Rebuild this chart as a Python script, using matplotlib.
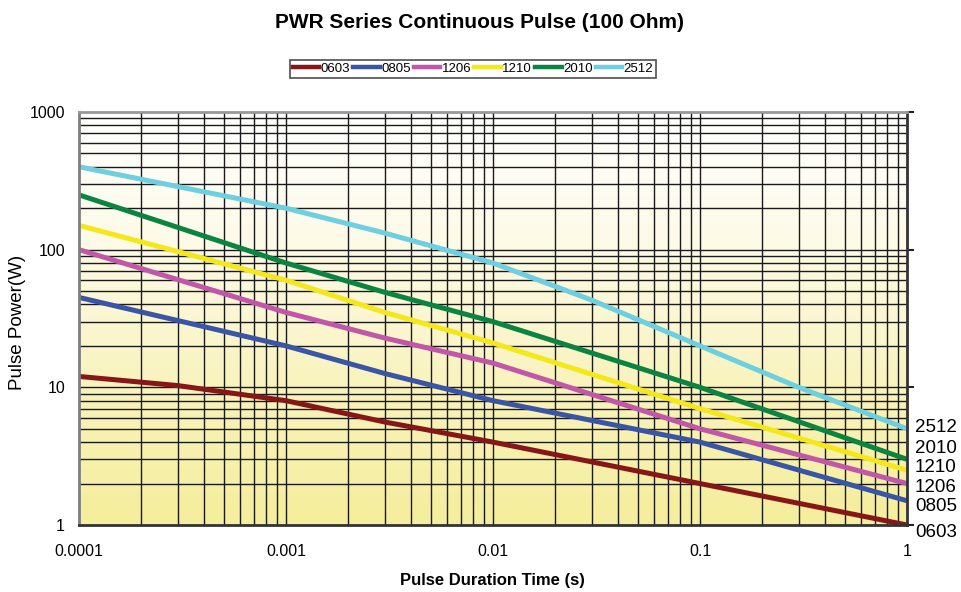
import numpy as np
import matplotlib
matplotlib.use("Agg")
import matplotlib.pyplot as plt
from matplotlib.lines import Line2D
from matplotlib.colors import LinearSegmentedColormap

# ---- data ----
series_names = ["0603", "0805", "1206", "1210", "2010", "2512"]
series_colors = ["#861618", "#3a55a6", "#c057a9", "#f4e81a", "#0c8441", "#6dcfe0"]

t_0603 = [0.0001, 0.0003, 0.001, 0.003, 0.01, 0.1, 1]
p_0603 = [12, 10.3, 8, 5.6, 4, 2, 1]
t_0805 = [0.0001, 0.001, 0.003, 0.01, 0.1, 1]
p_0805 = [45, 20, 12.6, 8, 4, 1.5]
t_1206 = [0.0001, 0.001, 0.003, 0.01, 0.1, 1]
p_1206 = [100, 35, 22.8, 15, 5, 2]
t_1210 = [0.0001, 0.001, 0.003, 0.01, 0.1, 1]
p_1210 = [150, 60, 35, 21, 7, 2.5]
t_2010 = [0.0001, 0.001, 0.003, 0.01, 0.1, 1]
p_2010 = [250, 80, 49, 30, 10, 3]
t_2512 = [0.0001, 0.001, 0.003, 0.01, 0.03, 0.1, 0.3, 1]
p_2512 = [400, 200, 132, 80, 43, 20, 10, 5]

series_t = [t_0603, t_0805, t_1206, t_1210, t_2010, t_2512]
series_p = [p_0603, p_0805, p_1206, p_1210, p_2010, p_2512]

x_ticks = [0.0001, 0.001, 0.01, 0.1, 1]
x_ticklabels = ["0.0001", "0.001", "0.01", "0.1", "1"]
y_ticks = [1, 10, 100, 1000]
y_ticklabels = ["1", "10", "100", "1000"]

title = "PWR Series Continuous Pulse (100 Ohm)"
xlabel = "Pulse Duration Time (s)"
ylabel = "Pulse Power(W)"

FONT = ["Liberation Sans", "DejaVu Sans"]

fig = plt.figure(figsize=(9.62, 5.92), dpi=100)
ax = fig.add_axes([79/962, 67/592, 828/962, 413/592])
ax.set_xscale("log")
ax.set_yscale("log")
ax.set_xlim(1e-4, 1)
ax.set_ylim(1, 1000)

# background gradient (white at top, yellow at bottom)
cmap = LinearSegmentedColormap.from_list("bg", ["#ffffff", "#fdfae6", "#f9f3bd", "#f5ee9c"])
grad = np.linspace(0, 1, 256).reshape(-1, 1)
ax.imshow(grad, aspect="auto", cmap=cmap, origin="upper", extent=[0, 1, 0, 1],
          transform=ax.transAxes, zorder=0)

# grid
for dec in range(-4, 1):
    for m in range(1, 10):
        v = m * 10.0 ** dec
        if 1e-4 < v < 1:
            ax.axvline(v, color="#1a1a1a", lw=1.0, zorder=1)
for dec in range(0, 3):
    for m in range(1, 10):
        v = m * 10.0 ** dec
        if 1 < v < 1000:
            ax.axhline(v, color="#1a1a1a", lw=1.0, zorder=1)

for t, p, c in zip(series_t, series_p, series_colors):
    ax.plot(t, p, color=c, lw=3.6, solid_capstyle="butt", zorder=3)

ax.set_xticks(x_ticks)
ax.set_xticklabels(x_ticklabels)
ax.set_yticks(y_ticks)
ax.set_yticklabels(y_ticklabels)
ax.minorticks_off()
ax.tick_params(axis="x", which="both", bottom=False, pad=10, labelsize=11.5)
ax.tick_params(axis="y", which="both", left=False, right=True, direction="out",
               length=5, width=1.5, color="#222222", pad=5, labelsize=11.5)
for lab in ax.get_xticklabels() + ax.get_yticklabels():
    lab.set_family(FONT)

ax.spines["left"].set_color("#7f7f7f")
ax.spines["left"].set_linewidth(2)
ax.spines["top"].set_color("#999999")
ax.spines["top"].set_linewidth(2)
ax.spines["bottom"].set_color("#333333")
ax.spines["bottom"].set_linewidth(2)
ax.spines["right"].set_color("#333333")
ax.spines["right"].set_linewidth(2)
for s in ax.spines.values():
    s.set_zorder(5)

# right-side labels
label_y = [-0.017, 0.044, 0.092, 0.140, 0.186, 0.235]
for name, yy in zip(series_names, label_y):
    ax.text(1.0095, yy, name, transform=ax.transAxes, ha="left", va="center",
            fontsize=13.5, family=FONT, clip_on=False)

fig.text(480/962, 1 - 22/592, title, ha="center", va="center", fontsize=15,
         fontweight="bold", family=FONT)
fig.text(492/962, 1 - 580/592, xlabel, ha="center", va="center", fontsize=12,
         fontweight="bold", family=FONT)
fig.text(18/962, 1 - 322/592, ylabel, ha="center", va="center", rotation=90,
         fontsize=13.5, family=FONT)

handles = [Line2D([], [], color=c, lw=3.2) for c in series_colors]
leg = fig.legend(handles, series_names, loc="center", bbox_to_anchor=(473/962, 1 - 69/592),
                 ncol=6, handlelength=2.0, handletextpad=0.1,
                 columnspacing=0.25, borderpad=0.25, frameon=True, fancybox=False,
                 prop={"family": FONT, "size": 9.5})
leg.get_frame().set_edgecolor("#222222")
leg.get_frame().set_linewidth(1.2)

fig.savefig("out.png", dpi=100)
